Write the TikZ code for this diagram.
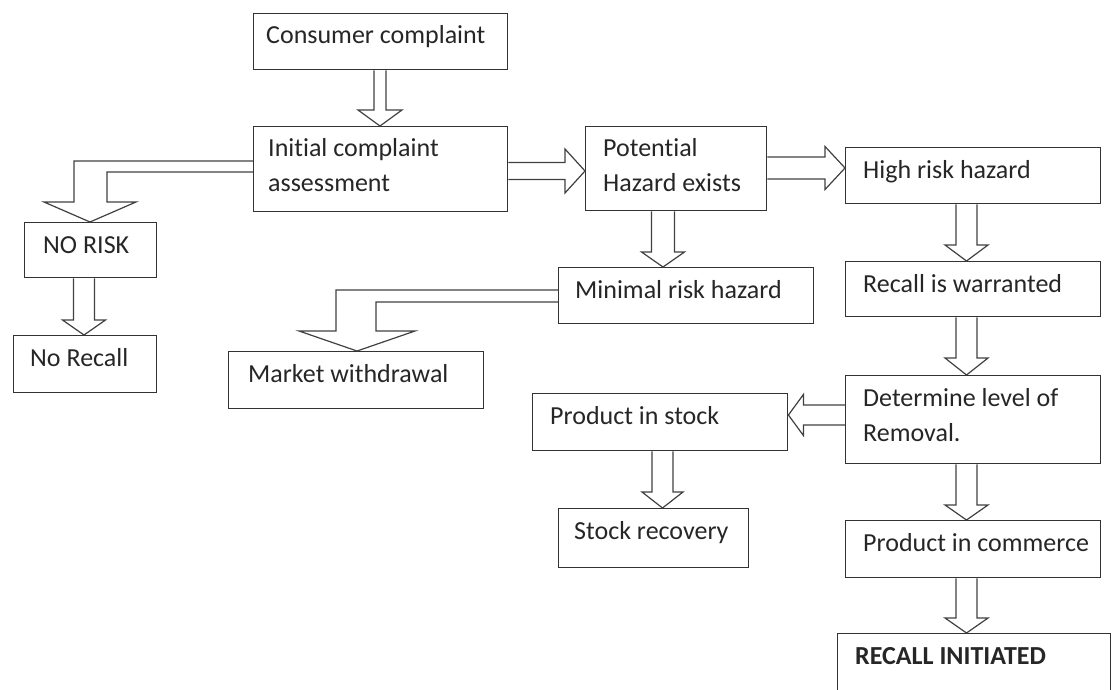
\documentclass[tikz,border=0pt]{standalone}
\usepackage{fontspec}
\setmainfont{Carlito}[Ligatures={NoCommon}]
\usetikzlibrary{calc}
\tikzset{
  box/.style={draw=black!80, line width=1.4pt, inner sep=0pt, anchor=north west},
  lbl/.style={inner sep=0pt, anchor=base west, text=black!85, font=\fontsize{26}{35}\selectfont},
  blk/.style={draw=black!75, line width=1.2pt, line join=miter},
}
% name, left, top, right, bottom, text inset, text  (pixel units, y downwards)
\newcommand\flowbox[7]{%
  \node[box, minimum width={(#4-#2)*1pt}, minimum height={(#5-#3)*1pt}] (#1) at (#2,#3) {};
  \node[lbl] (#1-t) at ($(#1.north west)+(#6,31)$) {#7};}
\newcommand\twolines[2]{\begin{tabular}[t]{@{}l@{}}#1\\#2\end{tabular}}
% from, to, centre x, shaft half, head half, head length
\newcommand\downblock[6]{%
  \draw[blk] let \p1=(#1.south), \p2=(#2.north) in
    ({(#3-#4)*1pt},\y1) -- ({(#3-#4)*1pt},{\y2+#6pt}) -- ({(#3-#5)*1pt},{\y2+#6pt})
    -- ({#3*1pt},\y2) -- ({(#3+#5)*1pt},{\y2+#6pt}) -- ({(#3+#4)*1pt},{\y2+#6pt})
    -- ({(#3+#4)*1pt},\y1);}
% from, to, centre y, shaft half, head half, head length
\newcommand\rightblock[6]{%
  \draw[blk] let \p1=(#1.east), \p2=(#2.west) in
    (\x1,{-(#3-#4)*1pt}) -- ({\x2-#6pt},{-(#3-#4)*1pt}) -- ({\x2-#6pt},{-(#3-#5)*1pt})
    -- (\x2,{-#3*1pt}) -- ({\x2-#6pt},{-(#3+#5)*1pt}) -- ({\x2-#6pt},{-(#3+#4)*1pt})
    -- (\x1,{-(#3+#4)*1pt});}
\newcommand\leftblock[6]{%
  \draw[blk] let \p1=(#1.west), \p2=(#2.east) in
    (\x1,{-(#3-#4)*1pt}) -- ({\x2+#6pt},{-(#3-#4)*1pt}) -- ({\x2+#6pt},{-(#3-#5)*1pt})
    -- (\x2,{-#3*1pt}) -- ({\x2+#6pt},{-(#3+#5)*1pt}) -- ({\x2+#6pt},{-(#3+#4)*1pt})
    -- (\x1,{-(#3+#4)*1pt});}
% from, to, y top, y bottom, x outer, x inner, tip x, head half, head length
\newcommand\bentblock[9]{%
  \draw[blk] let \p1=(#1.west), \p2=(#2.north) in
    (\x1,{-#3pt}) -- ({#5pt},{-#3pt}) -- ({#5pt},{\y2+#9pt}) -- ({(#7-#8)*1pt},{\y2+#9pt})
    -- ({#7pt},\y2) -- ({(#7+#8)*1pt},{\y2+#9pt}) -- ({#6pt},{\y2+#9pt})
    -- ({#6pt},{-#4pt}) -- (\x1,{-#4pt});}
\begin{document}
\begin{tikzpicture}[x=1pt, y=-1pt]
\useasboundingbox (0,0) rectangle (1118,690);
\flowbox{cc}{253}{13}{507}{69}{13}{Consumer complaint}
\flowbox{ica}{253}{126}{507}{211}{15}{\twolines{Initial complaint}{assessment}}
\flowbox{phe}{585}{126}{766}{210}{18}{\twolines{Potential}{Hazard exists}}
\flowbox{hrh}{845}{147}{1100}{203}{18}{High risk hazard}
\flowbox{riw}{845}{261}{1100}{316}{18}{Recall is warranted}
\flowbox{dlr}{845}{375}{1100}{463}{18}{\twolines{Determine level of}{Removal.}}
\flowbox{pic}{845}{520}{1100}{577}{18}{Product in commerce}
\flowbox{ri}{837}{633}{1110}{690}{18}{\textbf{RECALL INITIATED}}
\flowbox{mrh}{558}{267}{813}{323}{17}{Minimal risk hazard}
\flowbox{mw}{228}{351}{483}{408}{20}{Market withdrawal}
\flowbox{nrk}{24}{222}{156}{277}{19}{NO RISK}
\flowbox{nrc}{13}{335}{156}{392}{17}{No Recall}
\flowbox{pis}{532}{393}{787}{450}{18}{Product in stock}
\flowbox{sr}{558}{508}{748}{567}{16}{Stock recovery}

\downblock{cc}{ica}{380}{6}{22}{16}
\rightblock{ica}{phe}{171}{8.5}{22}{20}
\rightblock{phe}{hrh}{168}{11}{21.5}{20}
\downblock{hrh}{riw}{966.5}{10.5}{21.5}{16}
\downblock{riw}{dlr}{966.5}{10.5}{21.5}{17}
\downblock{dlr}{pic}{966.5}{10.5}{21.5}{15}
\downblock{pic}{ri}{966.5}{10.5}{21.5}{15}
\downblock{phe}{mrh}{663}{11.5}{21.5}{15}
\downblock{nrk}{nrc}{84}{10.5}{21.5}{15}
\downblock{pis}{sr}{662.5}{10.5}{20.5}{16}
\leftblock{dlr}{pis}{415}{10}{20.5}{15}
\bentblock{ica}{nrk}{161}{172}{74}{107}{90}{46}{20}
\bentblock{mrh}{mw}{290}{302}{336}{376}{357}{58}{20}
\end{tikzpicture}
\end{document}
